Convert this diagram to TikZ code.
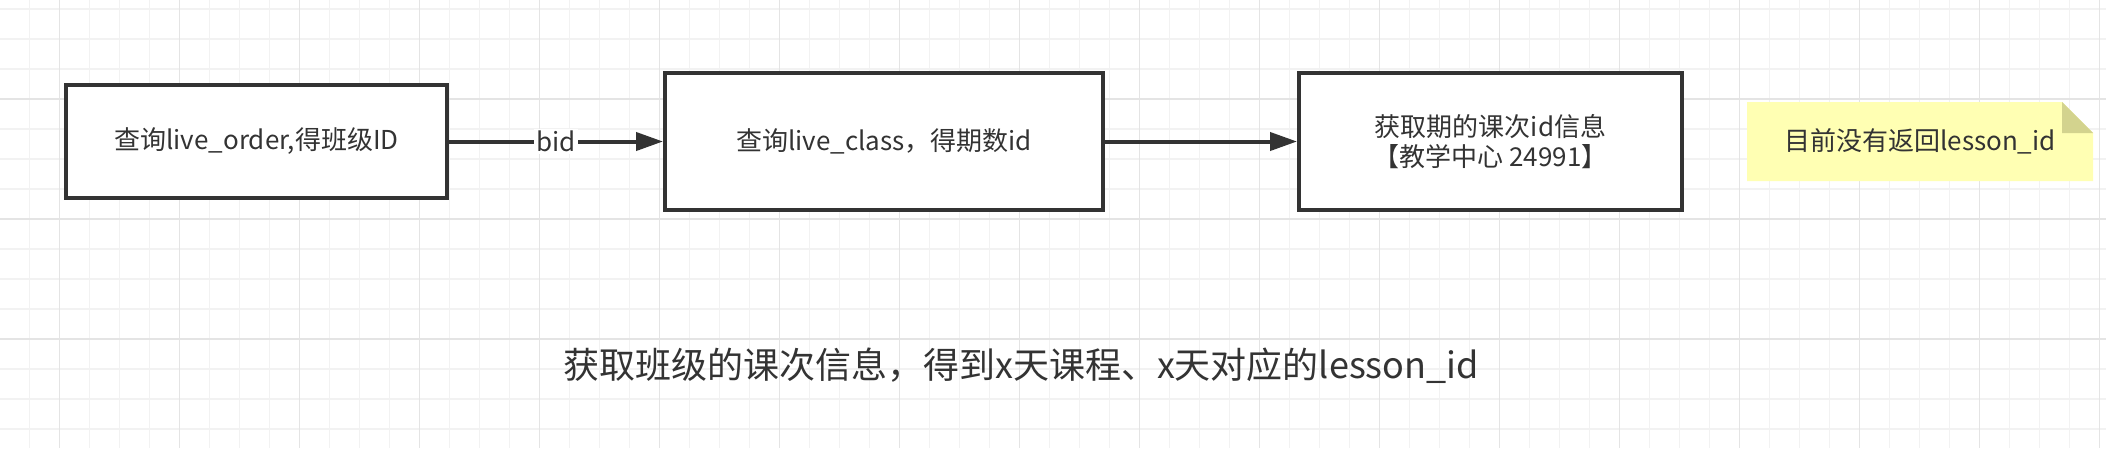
\documentclass[tikz,border=0pt]{standalone}
\usepackage{fontspec}
\setmainfont{Noto Sans CJK SC}
\usepackage{xcolor}
\usetikzlibrary{arrows.meta,positioning}
\definecolor{dgink}{HTML}{333333}
\definecolor{dggridminor}{HTML}{F2F2F2}
\definecolor{dggridmajor}{HTML}{E4E4E4}
\definecolor{dgnote}{HTML}{FFFFB3}
\definecolor{dgfold}{HTML}{D3D38E}
\tikzset{
  stepbox/.style={draw=dgink, line width=4pt, fill=white, align=center, inner sep=0pt, minimum height=113pt, text=dgink, font=\fontsize{26}{30}\selectfont},
  flow/.style={-{Triangle[length=27pt,width=18pt]}, line width=4pt, draw=dgink},
  lbl/.style={fill=white, inner sep=2pt, text=dgink, font=\fontsize{26}{30}\selectfont},
  gridminor/.style={draw=dggridminor, line width=1.5pt},
  gridmajor/.style={draw=dggridmajor, line width=1.5pt},
  notebox/.style={inner sep=0pt, outer sep=0pt, minimum width=346pt, minimum height=79pt, text=dgink, font=\fontsize{26}{30}\selectfont,
    path picture={
      \fill[dgnote] (path picture bounding box.south west) -- (path picture bounding box.north west)
        -- ([xshift=-31pt]path picture bounding box.north east) -- ([yshift=-31pt]path picture bounding box.north east)
        -- (path picture bounding box.south east) -- cycle;
      \fill[dgfold] ([xshift=-31pt]path picture bounding box.north east) -- ([xshift=-31pt,yshift=-31pt]path picture bounding box.north east)
        -- ([yshift=-31pt]path picture bounding box.north east) -- cycle;
    }}
}

\begin{document}
\begin{tikzpicture}[x=1pt, y=-1pt]
  \useasboundingbox (0,0) rectangle (2106,448);
  \fill[white] (0,0) rectangle (2106,448);
  % background grid
  \foreach \gx in {-0.7,29.3,...,2106} \draw[gridminor] (\gx,0) -- (\gx,448);
  \foreach \gy in {9,39,...,448} \draw[gridminor] (0,\gy) -- (2106,\gy);
  \foreach \gx in {59.3,179.3,...,2106} \draw[gridmajor] (\gx,0) -- (\gx,448);
  \foreach \gy in {99,219,339} \draw[gridmajor] (0,\gy) -- (2106,\gy);

  \node[stepbox, minimum width=381pt] (order) at (256.5,141.5) {查询live\_order,得班级ID};
  \node[stepbox, minimum width=438pt, minimum height=137pt, right=214pt of order] (liveclass) {查询live\_class，得期数id};
  \node[stepbox, minimum width=383pt, minimum height=137pt, right=192pt of liveclass] (lessoninfo) {获取期的课次id信息\\【教学中心 24991】};
  \node[notebox, right=63pt of lessoninfo] (note) {目前没有返回lesson\_id};
  \node[text=dgink, font=\fontsize{36}{40}\selectfont] (summary) at (1021,366) {获取班级的课次信息，得到x天课程、x天对应的lesson\_id};

  \draw[flow] (order) -- node[lbl] (bidlabel) {bid} (liveclass);
  \draw[flow] (liveclass) -- (lessoninfo);
\end{tikzpicture}
\end{document}
